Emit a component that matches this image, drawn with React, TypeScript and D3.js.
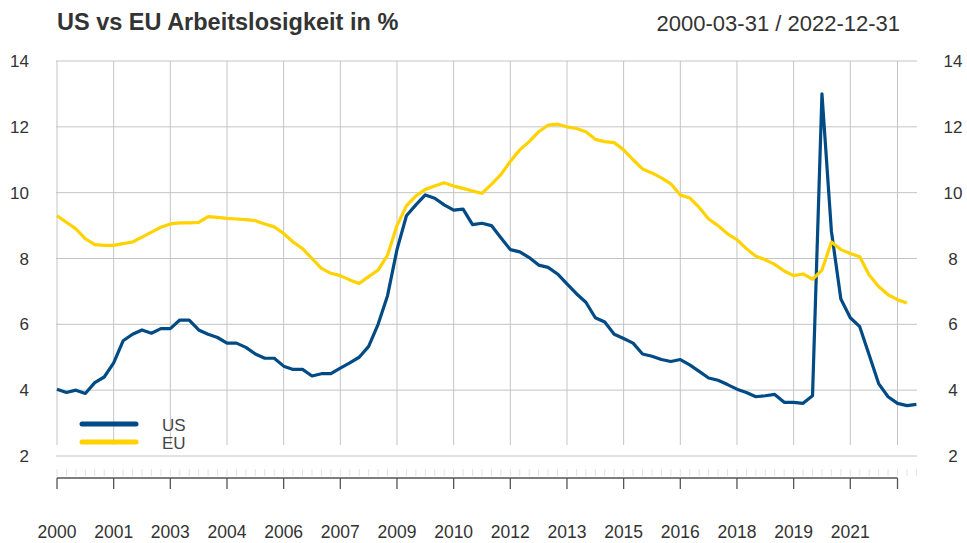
import React, { useEffect, useRef } from "react";
import * as d3 from "d3";

// quarterly unemployment rates, 2000Q1 .. 2022Q4
const usRate = [
  4.03, 3.93, 4.0, 3.9,
  4.23, 4.4, 4.83, 5.5,
  5.7, 5.83, 5.73, 5.87,
  5.87, 6.13, 6.13, 5.83,
  5.7, 5.6, 5.43, 5.43,
  5.3, 5.1, 4.97, 4.97,
  4.73, 4.63, 4.63, 4.43,
  4.5, 4.5, 4.67, 4.83,
  5.0, 5.33, 6.0, 6.87,
  8.27, 9.3, 9.63, 9.93,
  9.83, 9.63, 9.47, 9.5,
  9.03, 9.07, 9.0, 8.63,
  8.27, 8.2, 8.03, 7.8,
  7.73, 7.53, 7.23, 6.93,
  6.67, 6.2, 6.07, 5.7,
  5.57, 5.43, 5.1, 5.03,
  4.93, 4.87, 4.93, 4.77,
  4.57, 4.37, 4.3, 4.17,
  4.03, 3.93, 3.8, 3.83,
  3.87, 3.63, 3.63, 3.6,
  3.83, 13.0, 8.83, 6.77,
  6.2, 5.93, 5.07, 4.2,
  3.8, 3.6, 3.53, 3.57,
];

// EU has no value for the last quarter
const euRate = [
  9.3, 9.1, 8.9, 8.6,
  8.42, 8.4, 8.4, 8.45,
  8.5, 8.65, 8.8, 8.95,
  9.05, 9.08, 9.08, 9.1,
  9.27, 9.25, 9.22, 9.2,
  9.18, 9.15, 9.05, 8.96,
  8.76, 8.5, 8.3, 8.0,
  7.7, 7.55, 7.48, 7.35,
  7.24, 7.45, 7.65, 8.1,
  9.0, 9.6, 9.9, 10.1,
  10.2, 10.3, 10.2, 10.13,
  10.05, 9.98, 10.25, 10.55,
  10.95, 11.3, 11.55, 11.85,
  12.05, 12.08, 12.0, 11.95,
  11.85, 11.62, 11.55, 11.52,
  11.3, 11.0, 10.72, 10.6,
  10.45, 10.27, 9.93, 9.84,
  9.55, 9.2, 9.0, 8.75,
  8.57, 8.3, 8.07, 7.96,
  7.82, 7.62, 7.48, 7.53,
  7.37, 7.65, 8.5, 8.27,
  8.15, 8.05, 7.5, 7.15,
  6.9, 6.75, 6.65,
];

const majorTickIdx = [0, 6, 12, 18, 24, 30, 36, 42, 48, 54, 60, 66, 72, 78, 84, 89];
const majorTickLabels = [
  "2000", "2001", "2003", "2004", "2006", "2007", "2009", "2010",
  "2012", "2013", "2015", "2016", "2018", "2019", "2021", "",
];
const yTicks = [2, 4, 6, 8, 10, 12, 14];

const series = [
  { name: "US", values: usRate, color: "#004b85" },
  { name: "EU", values: euRate, color: "#ffd200" },
];

const FONT = "'Liberation Sans', Arial, sans-serif";

const App = () => {
  const ref = useRef(null);

  useEffect(() => {
    const W = 967;
    const H = 543;
    const svg = d3.select(ref.current);
    svg.selectAll("*").remove();
    svg.attr("width", W).attr("height", H);

    const x = d3.scaleLinear().domain([0, usRate.length - 1]).range([57, 916.4]);
    const y = d3.scaleLinear().domain([2, 14]).range([456, 61]);

    const gridColor = "#c4c4c4";

    // horizontal grid
    svg.append("g")
      .selectAll("line")
      .data(yTicks)
      .enter()
      .append("line")
      .attr("x1", 56)
      .attr("x2", 917)
      .attr("y1", (d) => y(d))
      .attr("y2", (d) => y(d))
      .style("stroke", gridColor)
      .style("stroke-width", 1);

    // vertical grid
    svg.append("g")
      .selectAll("line")
      .data(majorTickIdx)
      .enter()
      .append("line")
      .attr("x1", (d) => x(d))
      .attr("x2", (d) => x(d))
      .attr("y1", 61)
      .attr("y2", 445)
      .style("stroke", gridColor)
      .style("stroke-width", 1);

    // y labels, both sides
    const yl = svg.append("g")
      .style("font-family", FONT)
      .style("font-size", "17px")
      .style("fill", "#333");
    yl.selectAll(".yl")
      .data(yTicks)
      .enter()
      .append("text")
      .attr("x", 29)
      .attr("y", (d) => y(d) + 6)
      .attr("text-anchor", "end")
      .text((d) => d);
    yl.selectAll(".yr")
      .data(yTicks)
      .enter()
      .append("text")
      .attr("x", 953)
      .attr("y", (d) => y(d) + 6)
      .attr("text-anchor", "middle")
      .text((d) => d);

    // minor ticks band
    svg.append("g")
      .selectAll("line")
      .data(d3.range(usRate.length))
      .enter()
      .append("line")
      .attr("x1", (d) => x(d))
      .attr("x2", (d) => x(d))
      .attr("y1", 469)
      .attr("y2", 476)
      .style("stroke", "#e2e2e2")
      .style("stroke-width", 1);

    // x axis
    const ax = svg.append("g");
    ax.append("line")
      .attr("x1", x(0))
      .attr("x2", x(majorTickIdx[majorTickIdx.length - 1]))
      .attr("y1", 478)
      .attr("y2", 478)
      .style("stroke", "#555")
      .style("stroke-width", 1.3);
    ax.selectAll(".tick")
      .data(majorTickIdx)
      .enter()
      .append("line")
      .attr("x1", (d) => x(d))
      .attr("x2", (d) => x(d))
      .attr("y1", 478)
      .attr("y2", 489)
      .style("stroke", "#555")
      .style("stroke-width", 1.3);
    ax.selectAll("text")
      .data(majorTickIdx)
      .enter()
      .append("text")
      .attr("x", (d) => x(d))
      .attr("y", 538)
      .attr("text-anchor", "middle")
      .style("font-family", FONT)
      .style("font-size", "17.5px")
      .style("fill", "#333")
      .text((d, i) => majorTickLabels[i]);

    // lines
    const line = d3.line()
      .x((d, i) => x(i))
      .y((d) => y(d));
    series.forEach((s) => {
      svg.append("path")
        .datum(s.values)
        .attr("d", line)
        .style("fill", "none")
        .style("stroke", s.color)
        .style("stroke-width", 3.2)
        .style("stroke-linejoin", "round");
    });

    // legend
    const legend = svg.append("g");
    series.forEach((s, i) => {
      const ly = 424 + i * 18;
      legend.append("line")
        .attr("x1", 82)
        .attr("x2", 136)
        .attr("y1", ly)
        .attr("y2", ly)
        .style("stroke", s.color)
        .style("stroke-width", 5)
        .style("stroke-linecap", "round");
      legend.append("text")
        .attr("x", 162)
        .attr("y", ly + 7)
        .style("font-family", FONT)
        .style("font-size", "17px")
        .style("fill", "#444")
        .text(s.name);
    });

    // titles
    svg.append("text")
      .attr("x", 57)
      .attr("y", 30)
      .style("font-family", FONT)
      .style("font-size", "23.5px")
      .style("font-weight", "bold")
      .style("fill", "#333")
      .text("US vs EU Arbeitslosigkeit in %");
    svg.append("text")
      .attr("x", 900)
      .attr("y", 31)
      .attr("text-anchor", "end")
      .style("font-family", FONT)
      .style("font-size", "22px")
      .style("fill", "#333")
      .text("2000-03-31 / 2022-12-31");
  }, []);

  return (
    <svg
      ref={ref}
      style={{ position: "absolute", left: 0, top: 0, background: "#fff" }}
    />
  );
};

export default App;
